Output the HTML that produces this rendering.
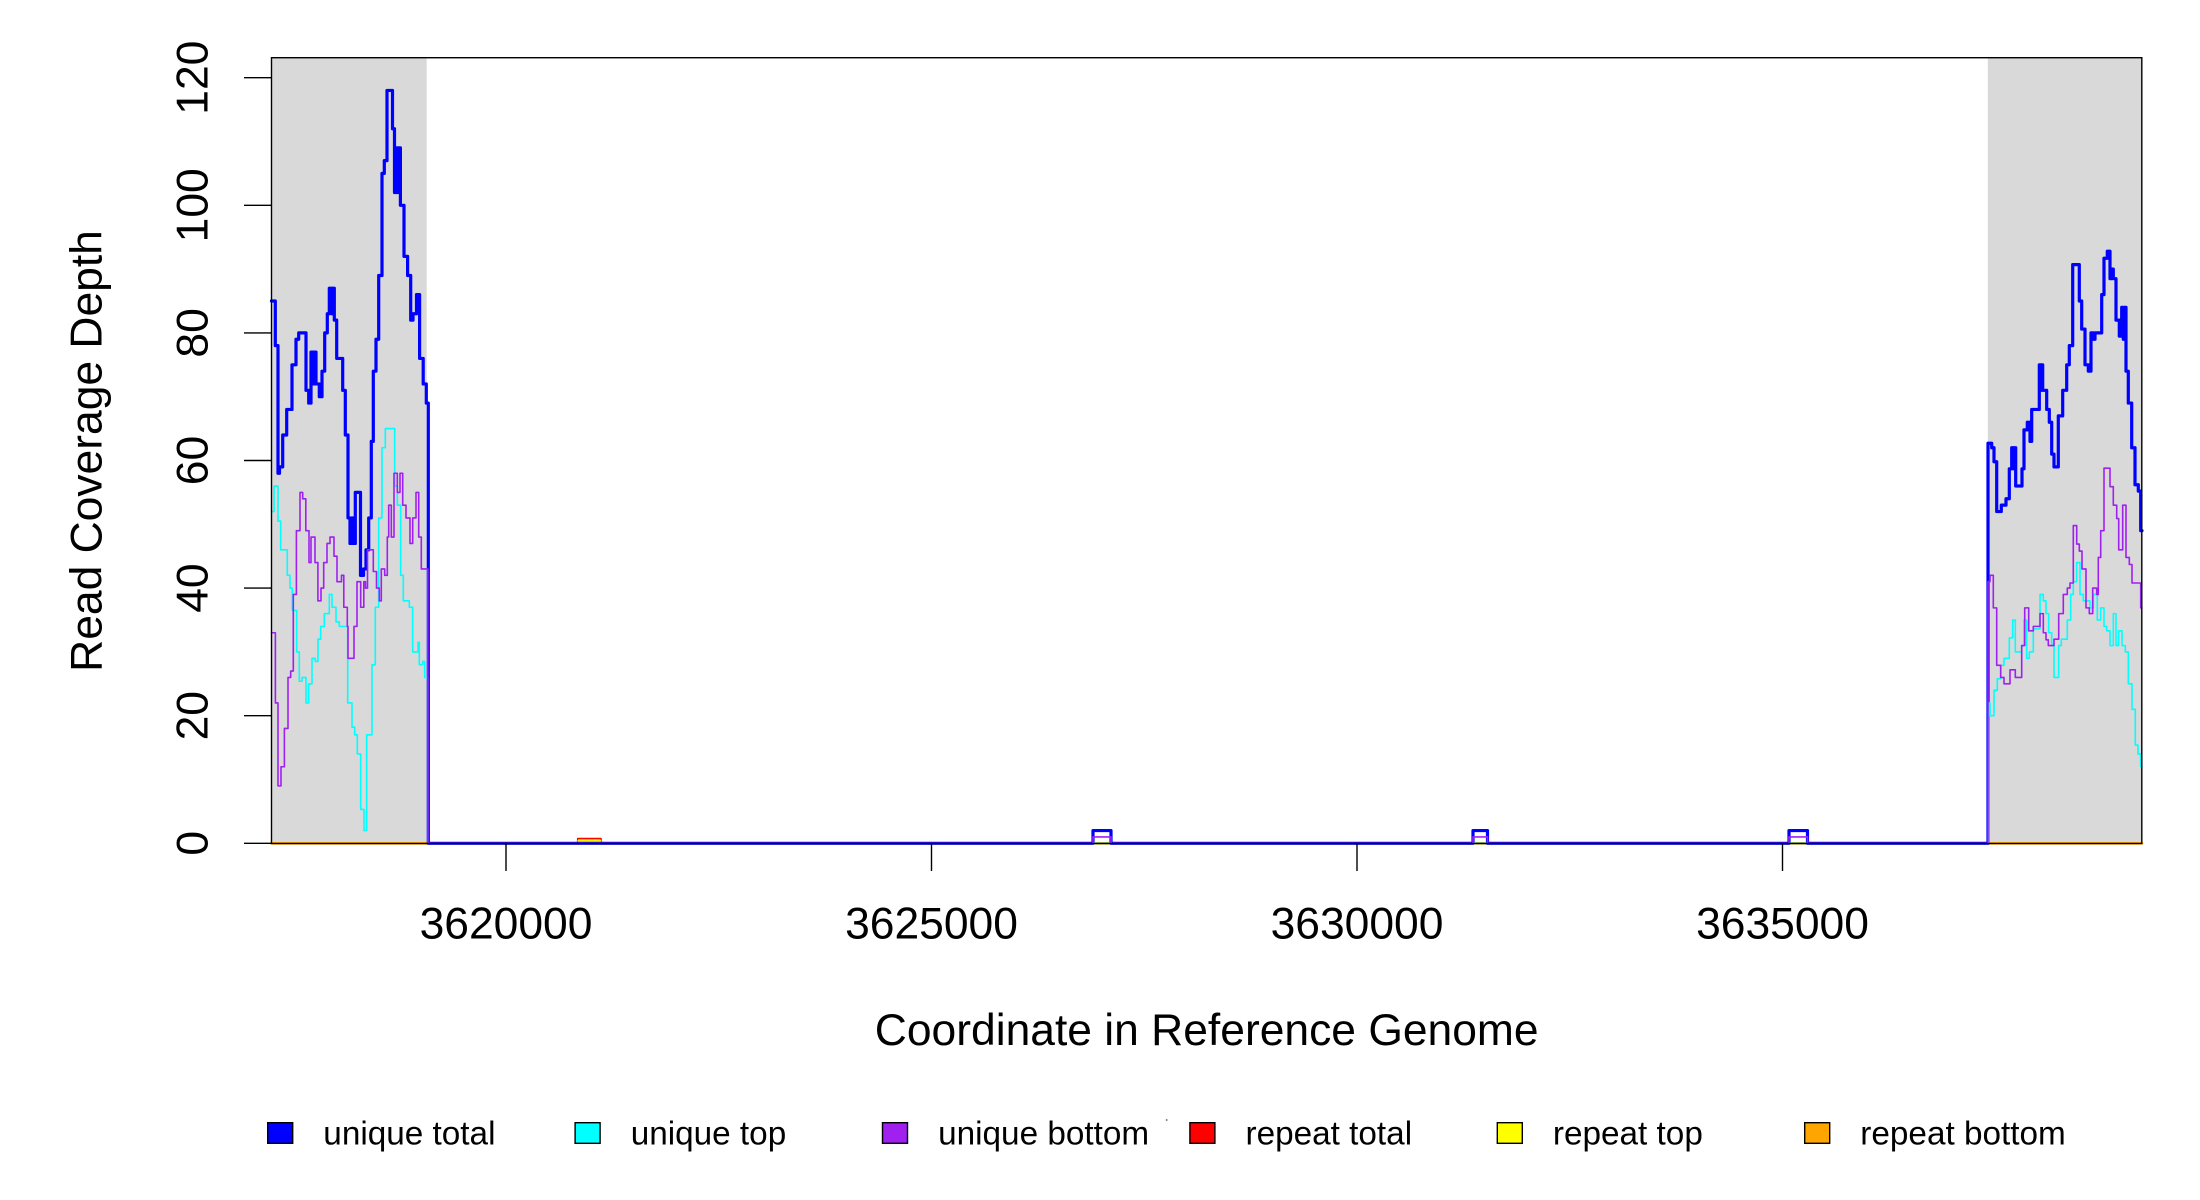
<!DOCTYPE html>
<html>
<head>
<meta charset="utf-8">
<style>
  html, body { margin: 0; padding: 0; background: #ffffff; }
  svg { display: block; }
  text { font-family: "Liberation Sans", Arial, sans-serif; fill: #000; }
</style>
</head>
<body>
<svg width="2200" height="1200" viewBox="0 0 2200 1200" xmlns="http://www.w3.org/2000/svg">
  <rect x="0" y="0" width="2200" height="1200" fill="#ffffff"/>

  <!-- shaded regions -->
  <rect x="271.5" y="57.7" width="155.2" height="785.8" fill="#d9d9d9"/>
  <rect x="1987.8" y="57.7" width="154.2" height="785.8" fill="#d9d9d9"/>

  <!-- data (x in px, y in data units) -->
  <g transform="translate(0,843.3) scale(1,-6.38)" fill="none" stroke-linejoin="round" stroke-linecap="round">
    <!-- repeat bottom (orange) zero line -->
    <path d="M271.5 0 H2142" stroke="#ffa500" stroke-width="2.6" vector-effect="non-scaling-stroke"/>
    <!-- repeat total / top small bump -->
    <path d="M571 0 H577.7 V0.75 H601 V0 H608" stroke="#ff0000" stroke-width="1.6" vector-effect="non-scaling-stroke"/>
    <path d="M578.5 0.4 H600.2" stroke="#ffff00" stroke-width="2.2" vector-effect="non-scaling-stroke"/>

    <!-- unique total (blue) -->
    <path stroke="#0000ff" stroke-width="3.2" vector-effect="non-scaling-stroke" d="
      M271.5 85 H275.3 V78 H278 V58 H279.5 V59 H282.7 V64 H286.7 V68 H292 V75 H296 V79 H298.7 V80 H306 V71 H308.7 V69
      H311 V77 H312.7 V72 H314.3 V77 H316 V72 H319.3 V70 H322 V74 H324.7 V80 H327.3 V83 H329.3 V87 H331.7 V83 H333.3 V87
      H334.3 V82 H336.7 V76 H342.7 V71 H345.3 V64 H348 V51 H350 V47 H351.5 V51 H353.3 V47 H355.3 V55 H360.5 V42 H363.5 V43
      H366 V46 H368.7 V51 H371.3 V63 H373.3 V74 H376 V79 H378.7 V89 H382 V105 H384.3 V107 H387 V118 H392.5 V112 H394.5 V102
      H395.7 V109 H396.8 V102 H398 V109 H400.4 V100 H404 V92 H407.6 V89 H410.7 V82 H413 V83 H416.5 V86 H419.6 V76 H423.2 V72
      H426.3 V69 H428.3 V0
      H1093 V2 H1111 V0 H1473 V2 H1487.5 V0 H1789 V2 H1807.5 V0
      H1988 V62.7 H1991.7 V62 H1994 V59.8 H1996.7 V52 H2001.3 V53 H2006 V54 H2009.3 V58.7 H2011.7 V62 H2013.3 V58.7 H2014 V62
      H2015.7 V56 H2022 V58.7 H2024 V64.8 H2027.3 V66 H2030 V63 H2031.7 V68 H2039.3 V75 H2040.7 V71 H2041.3 V75 H2042.7 V71
      H2046.7 V68 H2049.3 V66 H2051.7 V61 H2054 V59 H2058.3 V67 H2062.7 V71 H2066.7 V75 H2069.3 V78 H2072.7 V90.7 H2079.3 V85
      H2081.7 V80.6 H2085 V75 H2088.3 V74 H2091 V80 H2093.3 V79 H2095 V80 H2101.7 V86 H2104 V91.7 H2107.3 V92.8 H2110 V88.5
      H2111.7 V90 H2113.3 V88.5 H2116 V82 H2119.3 V79.5 H2121.7 V84 H2123.3 V79 H2124.3 V84 H2126 V74 H2128.3 V69 H2131.7 V62
      H2135 V56.2 H2138.3 V55.2 H2140.7 V49 H2142"/>

    <!-- unique top (cyan) -->
    <path stroke="#00ffff" stroke-width="1.6" vector-effect="non-scaling-stroke" d="
      M271.5 52 H274 V56 H278 V50.5 H280.7 V46 H287.3 V42 H290 V40 H292.3 V36.5 H296.7 V30 H299.3 V25.4 H302 V26 H306 V22
      H308.7 V25 H312 V29 H315.3 V28.5 H318 V32 H320.7 V34 H324.3 V36 H329.3 V39 H332 V37 H336 V34.7 H339.3 V34 H347.7 V22
      H352 V18.2 H354.7 V17 H357.3 V14 H360.7 V5.3 H364 V2 H366.7 V17 H372 V28 H375.3 V37 H378.7 V51 H382 V62 H385.3 V65
      H394.7 V56 H397.3 V53 H400.7 V42 H403.3 V38 H409.3 V37 H412.7 V30 H418 V31.5 H419.3 V28 H422.7 V28.5 H424.7 V26 H427.8 V0
      H1988.5 V22 H1990 V20 H1994 V24 H1997.3 V25.8 H2000.7 V27.9 H2004 V29 H2009.3 V32.2 H2012.7 V35 H2015.3 V30 H2021.7 V31
      H2024 V35 H2026.7 V29 H2029.3 V30 H2033.3 V33.6 H2040 V39 H2043.3 V38 H2046 V36 H2048.7 V33 H2051.7 V31 H2054 V26
      H2058.7 V31 H2061.3 V32 H2067.3 V35 H2070.7 V39 H2073.3 V41 H2076.7 V44 H2080 V39 H2083.3 V38 H2090 V36.9 H2093.3 V39
      H2097.3 V35 H2100.7 V36.9 H2104 V34 H2106.7 V33.3 H2110 V31 H2113.3 V36 H2116 V31 H2118.7 V33.3 H2122 V31 H2125.3 V30
      H2128.3 V25 H2132 V21 H2135.3 V15.4 H2138 V14 H2140.7 V12 H2142"/>

    <!-- unique bottom (purple) -->
    <path stroke="#a020f0" stroke-width="1.6" vector-effect="non-scaling-stroke" d="
      M271.5 33 H275.4 V22 H278 V9 H281 V12 H284.4 V18 H288 V26 H290.7 V27 H293.3 V39 H296.4 V49 H300 V55 H302.7 V54 H305.8 V49
      H309 V44 H311 V48 H315 V44 H317.9 V38 H321 V40 H323.7 V44 H327 V47 H330 V48 H334 V45 H337 V41 H341.5 V42 H343.8 V37
      H347.3 V34 H348 V29 H354 V34 H357 V41 H360.7 V37 H363.8 V41 H365.5 V40 H367.5 V46 H373.3 V42.6 H376.5 V40 H379.3 V38
      H381.3 V43 H384.7 V42 H387.3 V48 H388.7 V53 H391.3 V48 H394 V58 H397.3 V55 H400 V58 H402.7 V53 H406 V51 H410 V47
      H412.7 V51 H416 V55 H418.7 V48 H421.3 V43 H427.8 V0
      H1093 V1 H1111 V0 H1473 V1 H1487.5 V0 H1789 V1 H1807.5 V0
      H1988 V41 H1990 V42 H1993.3 V36.9 H1996.7 V27.9 H2000.7 V26 H2004 V25 H2010 V27.2 H2015.3 V26 H2021.7 V31 H2024.7 V36.9
      H2028.7 V33.3 H2033.3 V34 H2040 V36 H2043.3 V33 H2046 V31.9 H2048.3 V31 H2054 V32 H2058.7 V36 H2063.3 V39 H2067.3 V40
      H2070 V40.8 H2073.3 V49.8 H2076.7 V46.9 H2079.3 V45.8 H2082 V43 H2086 V36.9 H2089.3 V36 H2092.7 V40 H2096.7 V39
      H2098.3 V44.8 H2100.7 V49 H2104 V58.8 H2110 V55.9 H2113.3 V53 H2116.7 V50.9 H2118.7 V46 H2122.7 V53 H2126 V44.8
      H2129.3 V43.7 H2132 V40.8 H2140.7 V36.9 H2142"/>
  </g>

  <!-- plot box -->
  <rect x="271.5" y="57.7" width="1870.3" height="785.8" fill="none" stroke="#000" stroke-width="1.4"/>

  <!-- y axis ticks -->
  <g stroke="#000" stroke-width="1.4">
    <line x1="244" y1="843.3" x2="271.5" y2="843.3"/>
    <line x1="244" y1="715.7" x2="271.5" y2="715.7"/>
    <line x1="244" y1="588.1" x2="271.5" y2="588.1"/>
    <line x1="244" y1="460.5" x2="271.5" y2="460.5"/>
    <line x1="244" y1="332.9" x2="271.5" y2="332.9"/>
    <line x1="244" y1="205.3" x2="271.5" y2="205.3"/>
    <line x1="244" y1="77.7" x2="271.5" y2="77.7"/>
  </g>
  <g font-size="44.4" text-anchor="middle">
    <text transform="translate(207.5,843.3) rotate(-90)">0</text>
    <text transform="translate(207.5,715.7) rotate(-90)">20</text>
    <text transform="translate(207.5,588.1) rotate(-90)">40</text>
    <text transform="translate(207.5,460.5) rotate(-90)">60</text>
    <text transform="translate(207.5,332.9) rotate(-90)">80</text>
    <text transform="translate(207.5,205.3) rotate(-90)">100</text>
    <text transform="translate(207.5,77.7) rotate(-90)">120</text>
  </g>

  <!-- x axis ticks -->
  <g stroke="#000" stroke-width="1.4">
    <line x1="506" y1="843.5" x2="506" y2="871"/>
    <line x1="931.5" y1="843.5" x2="931.5" y2="871"/>
    <line x1="1357" y1="843.5" x2="1357" y2="871"/>
    <line x1="1782.5" y1="843.5" x2="1782.5" y2="871"/>
  </g>
  <g font-size="44.4" text-anchor="middle">
    <text x="506" y="938.3">3620000</text>
    <text x="931.5" y="938.3">3625000</text>
    <text x="1357" y="938.3">3630000</text>
    <text x="1782.5" y="938.3">3635000</text>
  </g>

  <!-- axis titles -->
  <text x="1206.7" y="1045" font-size="44.4" text-anchor="middle">Coordinate in Reference Genome</text>
  <text transform="translate(101.7,451) rotate(-90)" font-size="44.4" text-anchor="middle">Read Coverage Depth</text>

  <!-- legend -->
  <g stroke="#000" stroke-width="1.4">
    <rect x="267.7" y="1122.7" width="25" height="20.6" fill="#0000ff"/>
    <rect x="575.1" y="1122.7" width="25" height="20.6" fill="#00ffff"/>
    <rect x="882.5" y="1122.7" width="25" height="20.6" fill="#a020f0"/>
    <rect x="1189.9" y="1122.7" width="25" height="20.6" fill="#ff0000"/>
    <rect x="1497.3" y="1122.7" width="25" height="20.6" fill="#ffff00"/>
    <rect x="1804.7" y="1122.7" width="25" height="20.6" fill="#ffa500"/>
  </g>
  <g font-size="33.3">
    <text x="323.3" y="1144.3">unique total</text>
    <text x="630.7" y="1144.3">unique top</text>
    <text x="938.1" y="1144.3">unique bottom</text>
    <text x="1245.5" y="1144.3">repeat total</text>
    <text x="1552.9" y="1144.3">repeat top</text>
    <text x="1860.3" y="1144.3">repeat bottom</text>
  </g>
  <circle cx="1166.7" cy="1120" r="0.9" fill="#555"/>
</svg>
</body>
</html>
